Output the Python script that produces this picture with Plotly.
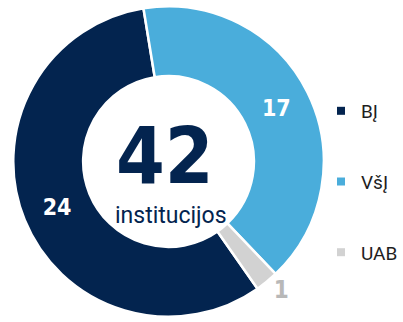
import plotly.graph_objects as go

# Institutions by legal form
labels = ["BĮ", "VšĮ", "UAB"]
values = [24, 17, 1]
colors = ["#03244f", "#4aaddb", "#d2d2d2"]
total_label = "institucijos"

W, H = 403, 322
NUM_FONT = "DejaVu Sans Condensed"

fig = go.Figure()

fig.add_trace(go.Pie(
    labels=labels,
    values=values,
    sort=False,
    direction="clockwise",
    rotation=145,
    hole=0.55,
    marker=dict(colors=colors, line=dict(color="white", width=2.5)),
    texttemplate="%{value}",
    textposition=["inside", "inside", "outside"],
    insidetextorientation="horizontal",
    textfont=dict(family=NUM_FONT, size=23, weight="bold",
                  color=["white", "white", "#b4b4b4"]),
    outsidetextfont=dict(family=NUM_FONT, size=24, color="#b8b8b8"),
    showlegend=False,
    hoverinfo="label+value",
    domain=dict(x=[(171.5 - 158) / W, (171.5 + 158) / W], y=[0, 1]),
))

# Legend entries, one group each so the gap spreads them vertically
for lab, col in zip(labels, colors):
    fig.add_trace(go.Scatter(
        x=[None], y=[None], mode="markers", name=lab,
        legendgroup=lab,
        marker=dict(symbol="square", size=8, color=col),
    ))

# Centre total
fig.add_annotation(
    x=167.5 / W, y=1 - 155 / H, xref="paper", yref="paper",
    text=f"<b>{sum(values)}</b>", showarrow=False,
    font=dict(family=NUM_FONT, size=78, color="#03244f"),
    xanchor="center", yanchor="middle",
)
fig.add_annotation(
    x=174 / W, y=1 - 217 / H, xref="paper", yref="paper",
    text=total_label, showarrow=False,
    font=dict(family="Roboto", size=23, color="#03244f"),
    xanchor="center", yanchor="middle",
)

fig.update_layout(
    width=W, height=H,
    margin=dict(l=0, r=0, t=6, b=0),
    paper_bgcolor="white", plot_bgcolor="white",
    xaxis=dict(visible=False), yaxis=dict(visible=False),
    legend=dict(
        x=327 / W, xanchor="left", y=1 - 89 / H, yanchor="top",
        font=dict(family="Roboto", size=19, color="#1e1e1e"),
        tracegroupgap=43, bgcolor="rgba(0,0,0,0)",
    ),
)

fig.write_html("out.html")
